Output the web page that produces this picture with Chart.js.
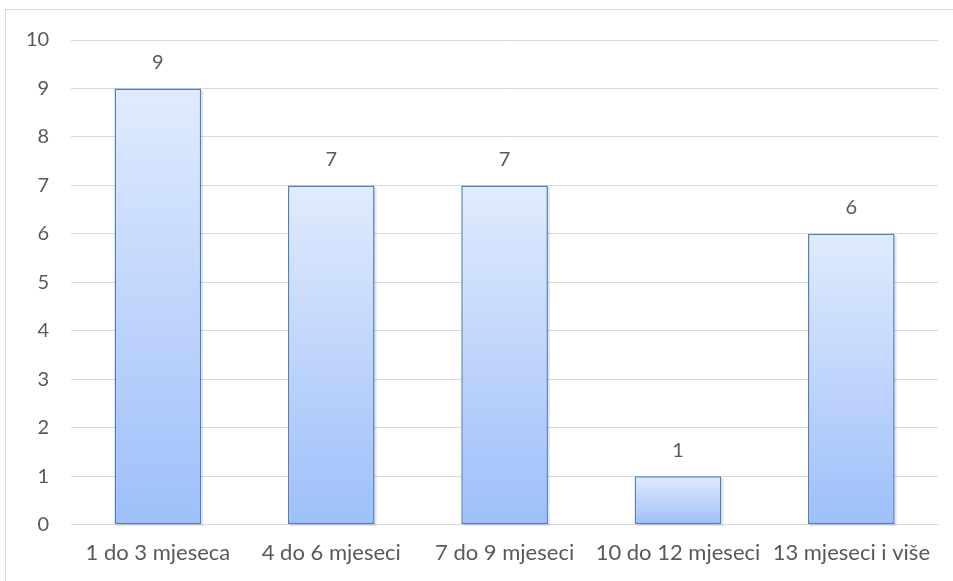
<!DOCTYPE html>
<html>
<head>
<meta charset="utf-8">
<script src="https://cdn.jsdelivr.net/npm/chart.js@4"></script>
<style>
  html, body { margin: 0; padding: 0; background: #fff; }
  #wrap { position: relative; width: 953px; height: 581px; }
  #frame { position: absolute; left: 5px; top: 9px; width: 960px; height: 600px; border: 1px solid #d9d9d9; box-sizing: border-box; }
  canvas { position: absolute; left: 0; top: 0; }
</style>
</head>
<body>
<div id="wrap">
  <div id="frame"></div>
  <canvas id="barChart" width="953" height="581"></canvas>
</div>
<script>
// podaci
const kategorije = ['1 do 3 mjeseca', '4 do 6 mjeseci', '7 do 9 mjeseci', '10 do 12 mjeseci', '13 mjeseci i više'];
const vrijednosti = [9, 7, 7, 1, 6];
const yMin = 0;
const yMax = 10;
const yKorak = 1;

const tekstBoja = '#595959';
const font = { family: 'Lato, "Open Sans", sans-serif', size: 20 };
const fontX = { family: 'Lato, "Open Sans", sans-serif', size: 22 };

// gradijent za svaki stupac posebno, od vrha do dna
function gradijent(ctx) {
  const chart = ctx.chart;
  if (!chart.chartArea || ctx.parsed == null) return '#c5d9fc';
  const y = chart.scales.y;
  const top = y.getPixelForValue(ctx.parsed.y);
  const bottom = y.getPixelForValue(0);
  if (!isFinite(top) || top === bottom) return '#c5d9fc';
  const g = chart.ctx.createLinearGradient(0, top, 0, bottom);
  g.addColorStop(0, '#e0ebfd');
  g.addColorStop(1, '#9ebffa');
  return g;
}

// oznake vrijednosti iznad stupaca
const oznake = {
  id: 'oznake',
  afterDatasetsDraw(chart) {
    const c = chart.ctx;
    c.save();
    c.fillStyle = tekstBoja;
    c.font = font.size + 'px ' + font.family;
    c.textAlign = 'center';
    c.textBaseline = 'middle';
    chart.getDatasetMeta(0).data.forEach((bar, i) => {
      c.fillText(vrijednosti[i], bar.x, bar.y - 26);
    });
    c.restore();
  }
};

// sjena desno od stupca
const sjena = {
  id: 'sjena',
  beforeDatasetsDraw(chart) {
    const c = chart.ctx;
    c.save();
    c.fillStyle = 'rgba(0,0,0,0.10)';
    chart.getDatasetMeta(0).data.forEach(bar => {
      const half = bar.width / 2;
      c.fillRect(bar.x - half + 2, bar.y + 2, bar.width, bar.base - bar.y);
    });
    c.restore();
  }
};

new Chart(document.getElementById('barChart'), {
  type: 'bar',
  data: {
    labels: kategorije,
    datasets: [{
      data: vrijednosti,
      backgroundColor: gradijent,
      borderColor: '#4f81bd',
      borderWidth: 1.5,
      borderSkipped: false,
      barPercentage: 0.5,
      categoryPercentage: 1
    }]
  },
  options: {
    responsive: false,
    animation: false,
    layout: { padding: { left: 4, right: 15, top: 40, bottom: 8 } },
    plugins: {
      legend: { display: false },
      tooltip: { enabled: false }
    },
    scales: {
      x: {
        grid: { display: false },
        border: { color: '#d9d9d9', width: 1 },
        ticks: { color: tekstBoja, font: fontX, padding: 7, maxRotation: 0 }
      },
      y: {
        min: yMin,
        max: yMax,
        grid: { color: '#d9d9d9', drawTicks: false },
        border: { display: false },
        ticks: { stepSize: yKorak, color: tekstBoja, font: font, padding: 22 }
      }
    }
  },
  plugins: [sjena, oznake]
});
</script>
</body>
</html>
